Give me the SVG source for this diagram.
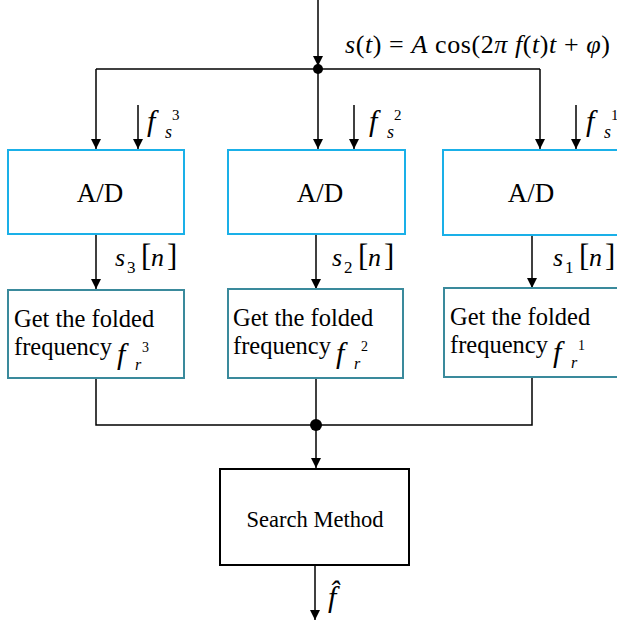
<svg xmlns="http://www.w3.org/2000/svg" width="617" height="624" viewBox="0 0 617 624">
  <style>
    .ad { fill: #fff; stroke: #1AB0E8; stroke-width: 2; }
    .fold { fill: #fff; stroke: #3A8A9C; stroke-width: 2; }
    .search { fill: #fff; stroke: #000; stroke-width: 2; }
    .wire { fill: none; stroke: #000; stroke-width: 1.5; }
    .t { font-family: "Liberation Serif", "Times New Roman", serif; fill: #000; }
    .i { font-style: italic; }
  </style>
  <defs>
    <marker id="arr" markerUnits="userSpaceOnUse" markerWidth="12" markerHeight="10" refX="10" refY="5" orient="auto">
      <path d="M0,0 L10,5 L0,10 z" fill="#000"/>
    </marker>
  </defs>

  <!-- connectors -->
  <g id="connectors">
    <line class="wire" x1="318" y1="0" x2="318" y2="66" marker-end="url(#arr)"/>
    <polyline class="wire" points="96,69 540,69"/>
    <line class="wire" x1="96" y1="69" x2="96" y2="149" marker-end="url(#arr)"/>
    <line class="wire" x1="318" y1="69" x2="318" y2="149" marker-end="url(#arr)"/>
    <line class="wire" x1="540" y1="69" x2="540" y2="149" marker-end="url(#arr)"/>
    <line class="wire" x1="138" y1="105" x2="138" y2="149" marker-end="url(#arr)"/>
    <line class="wire" x1="354" y1="105" x2="354" y2="149" marker-end="url(#arr)"/>
    <line class="wire" x1="576" y1="105" x2="576" y2="149" marker-end="url(#arr)"/>
    <line class="wire" x1="96" y1="234" x2="96" y2="289" marker-end="url(#arr)"/>
    <line class="wire" x1="316" y1="234" x2="316" y2="289" marker-end="url(#arr)"/>
    <line class="wire" x1="532" y1="235" x2="532" y2="288" marker-end="url(#arr)"/>
    <polyline class="wire" points="96,378 96,425 532,425 532,377"/>
    <line class="wire" x1="316" y1="378" x2="316" y2="425"/>
    <line class="wire" x1="316" y1="425" x2="316" y2="468" marker-end="url(#arr)"/>
    <line class="wire" x1="315" y1="565" x2="315" y2="620" marker-end="url(#arr)"/>
    <circle cx="318" cy="69" r="5" fill="#000"/>
    <circle cx="316" cy="425" r="6" fill="#000"/>
  </g>

  <!-- input signal -->
  <text class="t" x="345" y="53" font-size="26" textLength="265" lengthAdjust="spacing"><tspan class="i">s</tspan>(<tspan class="i">t</tspan>) = <tspan class="i">A</tspan>  cos(2<tspan class="i">π f</tspan>(<tspan class="i">t</tspan>)<tspan class="i">t</tspan> + <tspan class="i">φ</tspan>)</text>

  <!-- sampling rate labels -->
  <g class="t">
    <text x="147" y="131" font-size="30" class="i">f</text><text x="165" y="138" font-size="18" class="i">s</text><text x="172" y="120" font-size="15">3</text>
    <text x="369" y="131" font-size="30" class="i">f</text><text x="387" y="138" font-size="18" class="i">s</text><text x="394" y="120" font-size="15">2</text>
    <text x="586" y="131" font-size="30" class="i">f</text><text x="604" y="138" font-size="18" class="i">s</text><text x="611" y="120" font-size="15">1</text>
  </g>

  <!-- A/D converters -->
  <g id="ad3"><rect class="ad" x="8" y="150" width="176" height="84"/><text class="t" x="100" y="202" font-size="27" text-anchor="middle">A/D</text></g>
  <g id="ad2"><rect class="ad" x="228" y="150" width="177" height="84"/><text class="t" x="320" y="202" font-size="27" text-anchor="middle">A/D</text></g>
  <g id="ad1"><rect class="ad" x="443" y="150" width="180" height="85"/><text class="t" x="531" y="202" font-size="27" text-anchor="middle">A/D</text></g>

  <!-- sampled sequences -->
  <g class="t">
    <text x="115" y="266" font-size="26" class="i">s</text><text x="127" y="273" font-size="17">3</text><text x="141" y="266" font-size="31">[</text><text x="151" y="266" font-size="26" class="i">n</text><text x="167" y="266" font-size="31">]</text>
    <text x="332" y="266" font-size="26" class="i">s</text><text x="344" y="273" font-size="17">2</text><text x="358" y="266" font-size="31">[</text><text x="368" y="266" font-size="26" class="i">n</text><text x="384" y="266" font-size="31">]</text>
    <text x="553" y="266" font-size="26" class="i">s</text><text x="565" y="273" font-size="17">1</text><text x="579" y="266" font-size="31">[</text><text x="589" y="266" font-size="26" class="i">n</text><text x="605" y="266" font-size="31">]</text>
  </g>

  <!-- folded frequency estimators -->
  <g id="fold3">
    <rect class="fold" x="8" y="290" width="176" height="88"/>
    <text class="t" x="14" y="327" font-size="24.5">Get the folded</text>
    <text class="t" x="14" y="355" font-size="24.5">frequency</text>
    <text class="t i" x="117" y="364" font-size="30">f</text><text class="t i" x="135" y="370" font-size="16">r</text><text class="t" x="142" y="352" font-size="14">3</text>
  </g>
  <g id="fold2">
    <rect class="fold" x="228" y="289" width="175" height="89"/>
    <text class="t" x="233" y="326" font-size="24.5">Get the folded</text>
    <text class="t" x="233" y="354" font-size="24.5">frequency</text>
    <text class="t i" x="336" y="363" font-size="30">f</text><text class="t i" x="354" y="369" font-size="16">r</text><text class="t" x="361" y="351" font-size="14">2</text>
  </g>
  <g id="fold1">
    <rect class="fold" x="444" y="288" width="180" height="89"/>
    <text class="t" x="450" y="325" font-size="24.5">Get the folded</text>
    <text class="t" x="450" y="353" font-size="24.5">frequency</text>
    <text class="t i" x="553" y="362" font-size="30">f</text><text class="t i" x="571" y="368" font-size="16">r</text><text class="t" x="578" y="350" font-size="14">1</text>
  </g>

  <!-- search -->
  <g id="search">
    <rect class="search" x="220" y="469" width="189" height="96"/>
    <text class="t" x="315" y="527" font-size="22.5" text-anchor="middle">Search Method</text>
  </g>

  <!-- estimate -->
  <text class="t i" x="328" y="607" font-size="30">f̂</text>
</svg>
